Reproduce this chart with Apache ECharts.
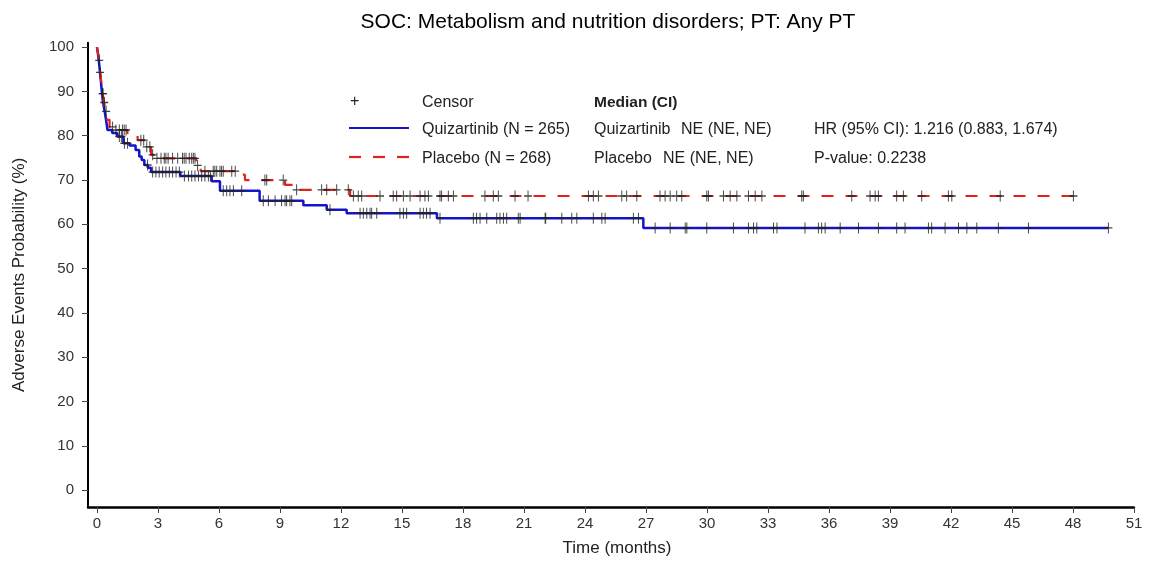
<!DOCTYPE html>
<html><head><meta charset="utf-8">
<script src="https://cdn.jsdelivr.net/npm/echarts@6/dist/echarts.min.js"></script>
<style>html,body{margin:0;padding:0;background:#fff}#c{width:1156px;height:562px}</style>
</head><body><div id="c"></div>
<script>
// ---- Data ----
const titleText = 'SOC: Metabolism and nutrition disorders; PT: Any PT';
const xTicks = [0, 3, 6, 9, 12, 15, 18, 21, 24, 27, 30, 33, 36, 39, 42, 45, 48, 51];
const yTicks = [0, 10, 20, 30, 40, 50, 60, 70, 80, 90, 100];

// Quizartinib KM event times (months) and survival (%) after each event
const quizTimes = [0, 0.05, 0.1, 0.15, 0.2, 0.25, 0.3, 0.38, 0.45, 0.52, 0.75, 1.0, 1.3, 1.6, 1.9, 2.08, 2.2, 2.33, 2.5, 2.66, 4.1, 5.64, 6.05, 8.0, 10.15, 11.3, 12.28, 16.72, 26.87, 49.74];
const quizSurv  = [100, 98.5, 96.6, 94.3, 92, 89.5, 87.5, 85.5, 83.5, 81.3, 80.6, 79.8, 78.3, 77.8, 76.8, 75.3, 74.5, 73.4, 72.8, 71.8, 70.9, 69.7, 67.6, 65.3, 64.3, 63.3, 62.5, 61.4, 59.2, 59.2];
const quizCensor = [0.15, 0.28, 0.36, 1.1, 1.2, 1.35, 1.5, 2.49, 2.74, 2.9, 3.06, 3.23, 3.39, 3.56, 3.72, 3.89, 4.05, 4.3, 4.5, 4.66, 4.82, 4.99, 5.15, 5.31, 5.48, 5.58, 6.21, 6.38, 6.54, 6.71, 7.12, 8.18, 8.43, 8.76, 9.08, 9.25, 9.33, 9.49, 9.58, 11.46, 12.94, 13.1, 13.27, 13.43, 13.51, 13.76, 14.9, 15.07, 15.23, 15.89, 16.05, 16.21, 16.38, 16.87, 18.51, 18.67, 18.84, 19.17, 19.66, 19.82, 19.99, 20.15, 20.72, 20.81, 22.04, 22.07, 22.86, 23.35, 23.6, 24.41, 24.83, 24.99, 26.38, 26.63, 27.45, 28.19, 28.93, 29.01, 29.99, 31.3, 32.04, 32.29, 32.45, 33.27, 33.44, 34.82, 35.48, 35.64, 35.81, 36.55, 37.45, 38.43, 39.33, 39.74, 40.89, 41.05, 41.71, 42.37, 42.78, 43.27, 44.33, 45.81, 49.74];

// Placebo KM event times (months) and survival (%)
const placTimes = [0, 0.05, 0.1, 0.15, 0.22, 0.28, 0.35, 0.42, 0.5, 0.62, 0.9, 1.5, 2.0, 2.33, 2.66, 2.9, 4.88, 5.1, 6.87, 7.28, 9.25, 9.66, 12.45, 48.02];
const placSurv  = [100, 98.8, 97, 94.5, 92, 89.5, 87.5, 85.5, 83.6, 82.0, 81.3, 80.6, 79.0, 77.5, 75.7, 74.9, 73.3, 72.0, 71.2, 70.0, 68.9, 67.8, 66.4, 66.4];
const placCensor = [0.11, 0.3, 0.45, 0.77, 0.93, 1.1, 1.26, 1.34, 1.43, 2.16, 2.3, 2.45, 2.6, 2.74, 2.95, 3.15, 3.31, 3.39, 3.5, 3.72, 3.97, 4.21, 4.29, 4.38, 4.54, 4.66, 4.74, 4.82, 4.95, 5.31, 5.72, 5.8, 5.89, 6.05, 6.13, 6.21, 6.63, 6.8, 8.26, 8.35, 9.16, 9.82, 11.05, 11.3, 11.79, 12.36, 12.61, 12.85, 13.02, 13.92, 14.57, 14.74, 15.07, 15.4, 15.89, 16.13, 16.3, 16.87, 16.95, 17.28, 17.53, 19.08, 19.49, 19.74, 20.56, 21.2, 24.17, 24.41, 24.66, 25.81, 26.05, 26.55, 27.69, 27.94, 28.19, 28.51, 28.76, 29.99, 30.07, 30.81, 31.14, 31.47, 32.04, 32.37, 32.7, 34.66, 34.74, 37.12, 38.02, 38.27, 38.43, 39.33, 39.66, 40.56, 41.87, 42.04, 44.42, 48.02];

// ---- Build series data ----
function pairs(t, s) { return t.map((v, i) => [v, s[i]]); }
function survAt(t, s, x) { let v = s[0]; for (let i = 0; i < t.length; i++) { if (t[i] <= x) v = s[i]; else break; } return v; }
function censorPts(t, s, c) { return c.map(x => [x, survAt(t, s, x)]); }

const FONT = "'Liberation Sans', Arial, sans-serif";
const BLUE = '#1414c8';
const RED = '#e0231c';
const plusPath = 'path://M4.4,0H5.6V4.4H10V5.6H5.6V10H4.4V5.6H0V4.4H4.4Z';

const chart = echarts.init(document.getElementById('c'), null, {renderer: 'canvas'});
const txt = (x, y, t, font) => ({type: 'text', x: x, y: y, z: 10,
  style: {text: t, font: font || ('16px ' + FONT), fill: '#222', align: 'left', verticalAlign: 'middle'}});

chart.setOption({
  animation: false,
  backgroundColor: '#fff',
  title: {text: titleText, left: 603, top: 7, textAlign: 'center',
    textStyle: {fontFamily: FONT, fontSize: 21, fontWeight: 'normal', color: '#000'}},
  grid: {left: 88, right: 22, top: 42.7, bottom: 54},
  xAxis: {
    type: 'value', min: -0.44, max: 51,
    name: 'Time (months)', nameLocation: 'middle', nameGap: 33,
    nameTextStyle: {fontFamily: FONT, fontSize: 17, color: '#222', padding: [0, 0, 0, 12]},
    axisLine: {onZero: false, lineStyle: {color: '#000', width: 2.5}},
    axisTick: {show: true, customValues: xTicks, length: 6, lineStyle: {color: '#444', width: 1}},
    axisLabel: {customValues: xTicks, fontFamily: FONT, fontSize: 15, color: '#333', margin: 9},
    splitLine: {show: false}
  },
  yAxis: {
    type: 'value', min: -3.8, max: 101,
    name: 'Adverse Events Probability (%)', nameLocation: 'middle', nameGap: 60,
    nameTextStyle: {fontFamily: FONT, fontSize: 17, color: '#222'},
    axisLine: {show: true, onZero: false, lineStyle: {color: '#000', width: 2}},
    axisTick: {show: true, customValues: yTicks, length: 6, lineStyle: {color: '#444', width: 1}},
    axisLabel: {customValues: yTicks, fontFamily: FONT, fontSize: 15, color: '#333', margin: 14},
    splitLine: {show: false}
  },
  series: [
    {name: 'Quizartinib', type: 'line', step: 'end', data: pairs(quizTimes, quizSurv), showSymbol: false,
      lineStyle: {color: BLUE, width: 2.5}, z: 2},
    {name: 'Placebo', type: 'line', step: 'end', data: pairs(placTimes, placSurv), showSymbol: false,
      lineStyle: {color: RED, width: 2.2, type: [12, 12]}, z: 3},
    {name: 'Censor Q', type: 'scatter', data: censorPts(quizTimes, quizSurv, quizCensor), symbol: plusPath, symbolSize: [8, 11],
      itemStyle: {color: '#222', opacity: 0.85}, z: 4},
    {name: 'Censor P', type: 'scatter', data: censorPts(placTimes, placSurv, placCensor), symbol: plusPath, symbolSize: [8, 11],
      itemStyle: {color: '#222', opacity: 0.85}, z: 4}
  ],
  graphic: [
    txt(350, 102, '+', '16px ' + FONT),
    txt(422, 103, 'Censor'),
    txt(594, 103, 'Median (CI)', 'bold 15.5px ' + FONT),
    {type: 'line', shape: {x1: 349, y1: 128, x2: 409, y2: 128}, style: {stroke: BLUE, lineWidth: 2}},
    txt(422, 130, 'Quizartinib (N = 265)'),
    txt(594, 130, 'Quizartinib'),
    txt(681, 130, 'NE (NE, NE)'),
    txt(814, 130, 'HR (95% CI): 1.216 (0.883, 1.674)'),
    {type: 'line', shape: {x1: 349, y1: 157, x2: 411, y2: 157}, style: {stroke: RED, lineWidth: 2.2, lineDash: [12, 12]}},
    txt(422, 159, 'Placebo (N = 268)'),
    txt(594, 159, 'Placebo'),
    txt(663, 159, 'NE (NE, NE)'),
    txt(814, 159, 'P-value: 0.2238')
  ]
});
</script>
</body></html>
